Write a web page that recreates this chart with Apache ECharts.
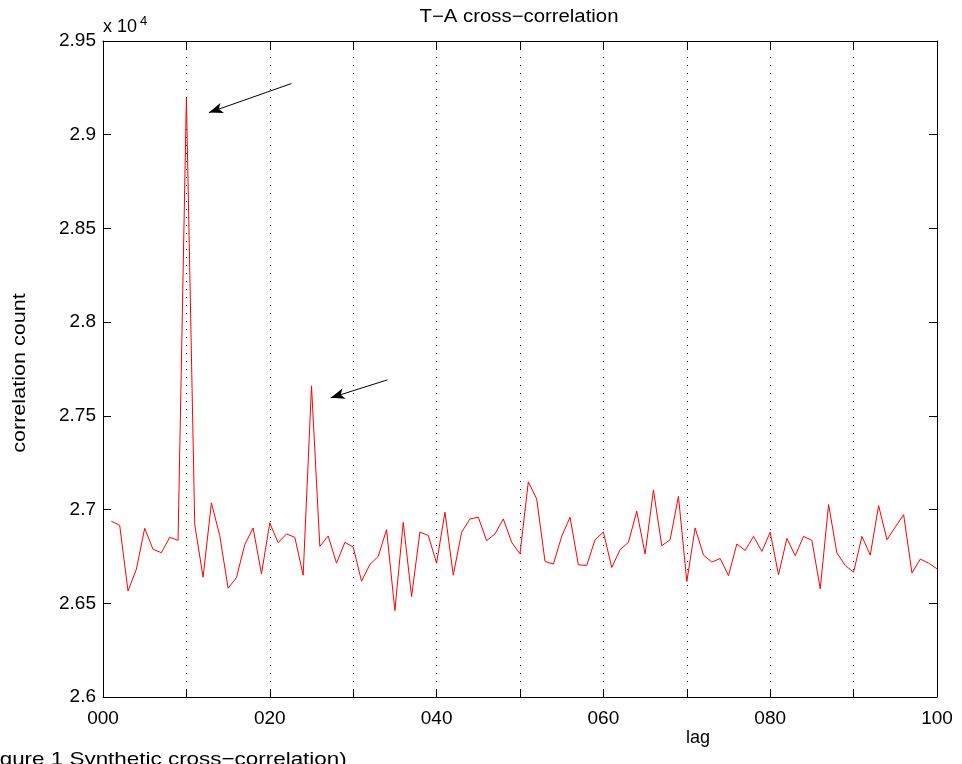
<!DOCTYPE html>
<html>
<head>
<meta charset="utf-8">
<title>T-A cross-correlation</title>
<script src="https://cdn.jsdelivr.net/npm/echarts@6/dist/echarts.min.js"></script>
<style>
    html,body{margin:0;padding:0;background:#fff;}
    #main{width:962px;height:764px;}
</style>
</head>
<body>
<div id="main"></div>
<script>
// lag (x) 
var lags = [1,2,3,4,5,6,7,8,9,10,11,12,13,14,15,16,17,18,19,20,
    21,22,23,24,25,26,27,28,29,30,31,32,33,34,35,36,37,38,39,40,
    41,42,43,44,45,46,47,48,49,50,51,52,53,54,55,56,57,58,59,60,
    61,62,63,64,65,66,67,68,69,70,71,72,73,74,75,76,77,78,79,80,
    81,82,83,84,85,86,87,88,89,90,91,92,93,94,95,96,97,98,99,100]
// correlation count
var counts = [26938,26916,26566,26682,26900,26788,26770,26852,26836,29196,
    26920,26639,27036,26861,26580,26637,26813,26902,26657,26929,
    26823,26870,26852,26650,27660,26804,26859,26714,26825,26800,
    26618,26707,26750,26893,26461,26932,26536,26880,26862,26714,
    26986,26650,26879,26950,26959,26834,26870,26950,26825,26764,
    27148,27057,26723,26709,26857,26959,26705,26702,26839,26880,
    26691,26786,26825,26991,26763,27104,26807,26839,27071,26616,
    26902,26757,26720,26739,26648,26816,26782,26857,26777,26879,
    26652,26846,26754,26857,26836,26577,27027,26768,26702,26666,
    26857,26757,27021,26839,26907,26973,26661,26736,26714,26684]
// arrows: [lag, count] tail -> head
var arrowTails = [[22.6,29273],[34.1,27692]]
var arrowHeads = [[12.7,29118],[27.3,27596]]
// ticks
var xTickLabels = ['000','020','040','060','080','100']

var fontName = '"Liberation Sans", Arial, Helvetica, sans-serif';

var lineData = []
for (var i = 0; i < lags.length; i++) {
    lineData.push([lags[i], counts[i]])
}
var arrowData = []
for (var i = 0; i < arrowTails.length; i++) {
    arrowData.push([{coord: arrowTails[i], symbol: 'none'}, {coord: arrowHeads[i], symbol: 'arrow'}])
}

var tickStyle = {show: true, inside: true, length: 8, lineStyle: {color: '#000', width: 1}}

var option = {
    animation: false,
    backgroundColor: '#fff',
    grid: {left: 103, right: 25, top: 41, bottom: 67},
    xAxis: [
        {
            type: 'value', min: 0, max: 100, interval: 10,
            axisLine: {show: true, onZero: false, lineStyle: {color: '#000', width: 1}},
            axisTick: tickStyle,
            axisLabel: {
                color: '#000', fontFamily: fontName, fontSize: 19, margin: 12,
                formatter: function (v) {
                    return v % 20 === 0 ? xTickLabels[v / 20] : ''
                }
            },
            splitLine: {show: true, lineStyle: {color: '#000', width: 1, type: [1, 7]}}
        },
        {
            type: 'value', position: 'top', min: 0, max: 100, interval: 10,
            axisLine: {show: true, onZero: false, lineStyle: {color: '#000', width: 1}},
            axisTick: tickStyle,
            axisLabel: {show: false},
            splitLine: {show: false}
        }
    ],
    yAxis: [
        {
            type: 'value', min: 26000, max: 29500, interval: 500,
            axisLine: {show: true, onZero: false, lineStyle: {color: '#000', width: 1}},
            axisTick: tickStyle,
            axisLabel: {
                color: '#000', fontFamily: fontName, fontSize: 19, margin: 7,
                formatter: function (v) {
                    return String(+(v / 1e4).toFixed(2))
                }
            },
            splitLine: {show: false}
        },
        {
            type: 'value', position: 'right', min: 26000, max: 29500, interval: 500,
            axisLine: {show: true, onZero: false, lineStyle: {color: '#000', width: 1}},
            axisTick: tickStyle,
            axisLabel: {show: false},
            splitLine: {show: false}
        }
    ],
    series: [
        {
            type: 'line',
            data: lineData,
            showSymbol: false,
            lineStyle: {color: '#ff0000', width: 1},
            itemStyle: {color: '#ff0000'},
            markLine: {
                silent: true,
                symbolSize: [8, 14],
                lineStyle: {color: '#000', width: 1, type: 'solid'},
                label: {show: false},
                data: arrowData
            }
        }
    ],
    graphic: [
        // title (text in the reference is a bit wide, so stretch it)
        {type: 'text', x: 519, y: 17, scaleX: 1.13, style: {text: 'T\u2212A cross\u2212correlation', font: '18px ' + fontName, fill: '#000', align: 'center', verticalAlign: 'middle'}},
        // x 10^4
        {type: 'text', left: 103, top: 18, style: {text: 'x 10', font: '18px ' + fontName, fill: '#000'}},
        {type: 'text', left: 140, top: 15, style: {text: '4', font: '13px ' + fontName, fill: '#000'}},
        // axis names
        {type: 'text', x: 698, y: 738, style: {text: 'lag', font: '18px ' + fontName, fill: '#000', align: 'center', verticalAlign: 'middle'}},
        {type: 'text', x: 20, y: 373, rotation: Math.PI / 2, scaleX: 1.2, style: {text: 'correlation count', font: '18px ' + fontName, fill: '#000', align: 'center', verticalAlign: 'middle'}},
        // caption, cut off at the left
        {type: 'text', x: -19, y: 760, scaleX: 1.18, style: {text: 'Figure 1 Synthetic cross\u2212correlation)', font: '19px ' + fontName, fill: '#000', verticalAlign: 'middle'}}
    ]
};

var chart = echarts.init(document.getElementById('main'));
chart.setOption(option);
window.addEventListener('resize', function () {
    chart.resize();
});
</script>
</body>
</html>
